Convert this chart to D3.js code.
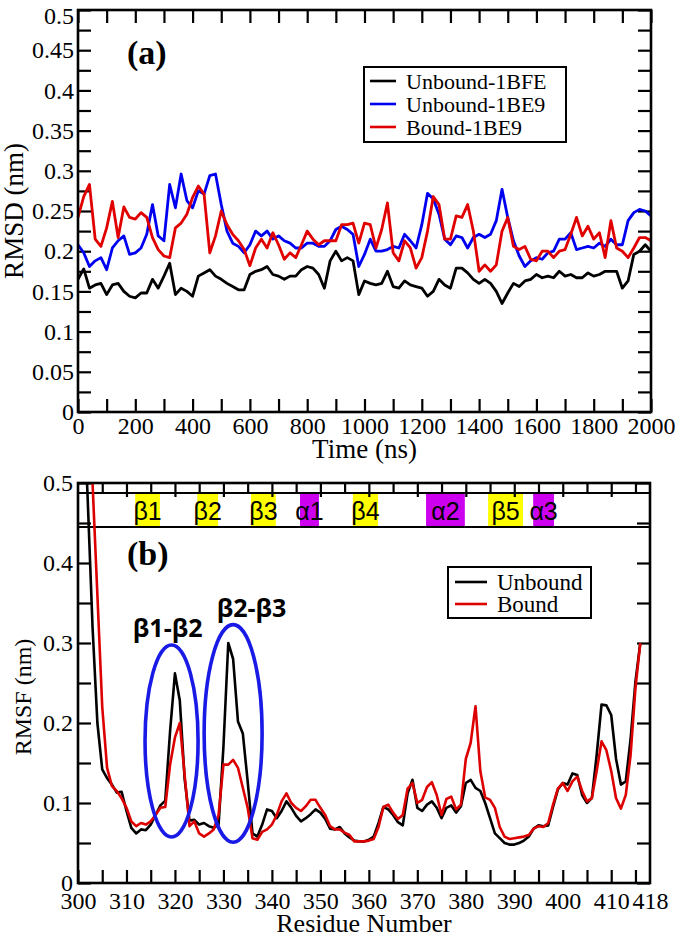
<!DOCTYPE html>
<html>
<head>
<meta charset="UTF-8" />
<title>RMSD / RMSF</title>
<script src="https://cdnjs.cloudflare.com/ajax/libs/d3/7.8.5/d3.min.js"></script>
<style>
  body { margin: 0; background: #fff; }
  svg { display: block; }
</style>
</head>
<body>
<svg id="chart" width="677" height="939"></svg>
<script>
// ---- panel (a): RMSD vs time ----
const rmsdTime = [0,20,40,60,80,100,120,140,160,180,200,220,240,260,280,300,320,340,360,380,
  400,420,440,460,480,500,520,540,560,580,600,620,640,660,680,700,720,740,760,780,
  800,820,840,860,880,900,920,940,960,980,1000,1020,1040,1060,1080,1100,1120,1140,1160,1180,
  1200,1220,1240,1260,1280,1300,1320,1340,1360,1380,1400,1420,1440,1460,1480,1500,1520,1540,1560,1580,
  1600,1620,1640,1660,1680,1700,1720,1740,1760,1780,1800,1820,1840,1860,1880,1900,1920,1940,1960,1980,2000];

const unbound1BFE = [0.165,0.178,0.154,0.158,0.160,0.146,0.158,0.160,0.150,0.144,0.142,0.148,0.148,0.165,0.154,0.169,0.185,0.146,0.154,0.150,
  0.144,0.169,0.173,0.177,0.169,0.165,0.160,0.156,0.152,0.152,0.171,0.175,0.177,0.181,0.171,0.169,0.165,0.169,0.169,0.177,
  0.181,0.179,0.171,0.154,0.188,0.200,0.188,0.192,0.188,0.146,0.163,0.160,0.158,0.160,0.175,0.156,0.154,0.163,0.158,0.156,
  0.154,0.144,0.150,0.165,0.158,0.154,0.179,0.179,0.173,0.165,0.160,0.165,0.160,0.150,0.135,0.148,0.160,0.156,0.163,0.165,
  0.171,0.167,0.169,0.167,0.175,0.169,0.171,0.167,0.167,0.173,0.169,0.171,0.175,0.175,0.175,0.154,0.163,0.196,0.200,0.208,0.200];

const unbound1BE9 = [0.208,0.198,0.181,0.188,0.192,0.177,0.204,0.213,0.219,0.196,0.198,0.204,0.221,0.258,0.219,0.213,0.283,0.254,0.296,0.263,
  0.254,0.275,0.271,0.294,0.296,0.258,0.225,0.210,0.206,0.198,0.208,0.225,0.219,0.225,0.215,0.219,0.213,0.210,0.204,0.204,
  0.210,0.210,0.206,0.206,0.213,0.227,0.231,0.227,0.221,0.181,0.196,0.215,0.200,0.200,0.202,0.206,0.204,0.221,0.213,0.204,
  0.233,0.272,0.265,0.246,0.215,0.208,0.219,0.217,0.204,0.217,0.221,0.217,0.221,0.238,0.277,0.242,0.213,0.194,0.181,0.188,
  0.192,0.190,0.198,0.200,0.215,0.215,0.223,0.202,0.204,0.206,0.204,0.210,0.206,0.215,0.208,0.208,0.238,0.248,0.252,0.250,0.244];

const bound1BE9 = [0.242,0.268,0.283,0.215,0.206,0.229,0.262,0.217,0.255,0.242,0.240,0.248,0.242,0.217,0.202,0.194,0.192,0.229,0.235,0.246,
  0.267,0.281,0.271,0.198,0.219,0.250,0.233,0.221,0.213,0.202,0.182,0.204,0.215,0.204,0.223,0.208,0.190,0.198,0.192,0.208,
  0.225,0.215,0.208,0.213,0.213,0.213,0.233,0.233,0.235,0.210,0.235,0.233,0.204,0.227,0.260,0.198,0.188,0.213,0.204,0.179,
  0.192,0.225,0.268,0.258,0.215,0.215,0.244,0.242,0.258,0.225,0.175,0.183,0.175,0.183,0.225,0.242,0.206,0.202,0.206,0.190,
  0.188,0.200,0.200,0.192,0.200,0.202,0.221,0.242,0.219,0.231,0.215,0.223,0.192,0.238,0.204,0.200,0.192,0.204,0.217,0.217,0.213];

const rmsdNames = ["Unbound-1BFE", "Unbound-1BE9", "Bound-1BE9"];
const rmsdColors = ["#000000", "#0000f0", "#e00000"];
const timeTicks = [0,200,400,600,800,1000,1200,1400,1600,1800,2000];
const timeMinor = [100,300,500,700,900,1100,1300,1500,1700,1900];
const rmsdTicks = [0,0.05,0.1,0.15,0.2,0.25,0.3,0.35,0.4,0.45,0.5];
const rmsdMinor = [0.025,0.075,0.125,0.175,0.225,0.275,0.325,0.375,0.425,0.475];

// ---- panel (b): RMSF per residue ----
const residues = [300,301,302,303,304,305,306,307,308,309,310,311,312,313,314,315,316,317,318,319,
  320,321,322,323,324,325,326,327,328,329,330,331,332,333,334,335,336,337,338,339,
  340,341,342,343,344,345,346,347,348,349,350,351,352,353,354,355,356,357,358,359,
  360,361,362,363,364,365,366,367,368,369,370,371,372,373,374,375,376,377,378,379,
  380,381,382,383,384,385,386,387,388,389,390,391,392,393,394,395,396,397,398,399,
  400,401,402,403,404,405,406,407,408,409,410,411,412,413,414,415,416];

const rmsfUnbound = [0.78,0.63,0.48,0.32,0.20,0.142,0.131,0.123,0.113,0.114,0.090,0.069,0.062,0.067,0.066,0.073,0.085,0.097,0.103,0.190,
  0.262,0.228,0.130,0.078,0.079,0.073,0.075,0.071,0.069,0.073,0.170,0.300,0.280,0.202,0.187,0.127,0.062,0.058,0.073,0.092,
  0.090,0.081,0.090,0.102,0.094,0.084,0.077,0.081,0.086,0.092,0.088,0.080,0.068,0.067,0.070,0.062,0.057,0.053,0.052,0.052,
  0.054,0.058,0.075,0.095,0.092,0.085,0.076,0.072,0.112,0.129,0.094,0.090,0.098,0.102,0.094,0.081,0.094,0.097,0.088,0.096,
  0.125,0.129,0.119,0.115,0.100,0.081,0.062,0.056,0.050,0.048,0.048,0.050,0.053,0.058,0.068,0.072,0.071,0.072,0.095,0.117,
  0.125,0.123,0.137,0.135,0.110,0.100,0.106,0.160,0.223,0.222,0.210,0.155,0.123,0.127,0.180,0.252,0.300];

const rmsfBound = [0.95,0.80,0.65,0.50,0.36,0.22,0.144,0.121,0.115,0.106,0.094,0.077,0.071,0.075,0.073,0.077,0.085,0.094,0.095,0.148,
  0.182,0.200,0.135,0.071,0.077,0.062,0.058,0.062,0.067,0.085,0.148,0.148,0.154,0.144,0.119,0.094,0.056,0.054,0.064,0.067,
  0.073,0.085,0.102,0.112,0.100,0.094,0.090,0.096,0.104,0.104,0.094,0.085,0.071,0.067,0.067,0.063,0.060,0.052,0.052,0.052,
  0.053,0.055,0.070,0.095,0.098,0.088,0.080,0.085,0.118,0.125,0.100,0.104,0.120,0.126,0.110,0.085,0.105,0.108,0.092,0.098,
  0.155,0.175,0.221,0.140,0.107,0.104,0.094,0.070,0.058,0.055,0.056,0.057,0.058,0.060,0.068,0.071,0.070,0.075,0.098,0.118,
  0.125,0.115,0.127,0.133,0.115,0.102,0.106,0.140,0.177,0.166,0.140,0.106,0.093,0.110,0.160,0.244,0.300];

const rmsfNames = ["Unbound", "Bound"];
const rmsfColors = ["#000000", "#dd0000"];
const residueTicks = [300,310,320,330,340,350,360,370,380,390,400,410,418];
const residueMinor = [305,315,325,335,345,355,365,375,385,395,405,415];
const rmsfTicks = [0,0.1,0.2,0.3,0.4,0.5];
const rmsfMinor = [0.05,0.15,0.25,0.35,0.45];

// secondary structure band
const ssLabels = ["β1","β2","β3","α1","β4","α2","β5","α3"];
const ssStart  = [311.8,324.6,335.7,345.8,356.7,371.8,384.6,393.9];
const ssEnd    = [316.9,328.9,340.8,349.7,361.9,379.8,391.8,398.2];
const ssType   = ["strand","strand","strand","helix","strand","helix","strand","helix"];

// loop annotations (data units)
const loopLabels = ["β1-β2","β2-β3"];
const loopCx = [319.3, 332.0];
const loopCy = [0.1775, 0.187];
const loopRx = [5.47, 5.98];
const loopRy = [0.12, 0.136];
const loopLabelX = [318.5, 335.8];
const loopLabelY = [0.3075, 0.3325];

const SERIF = "Liberation Serif, Times New Roman, serif";
const SANS = "Liberation Sans, Arial, sans-serif";
const svg = d3.select("#chart");

// tick marks + labels, no domain line (the frame is drawn separately)
function axisOnly(g, axis) {
  g.call(axis);
  g.select(".domain").remove();
  g.attr("font-size", 24).attr("font-family", SERIF);
  g.selectAll("text")
    .attr("font-size", 24)
    .attr("font-family", SERIF)
    .attr("fill", "#000");
  g.selectAll("line").attr("stroke", "#000").attr("stroke-width", 2.2);
}

function title(txt, size) {
  return svg.append("text")
    .attr("font-family", SERIF).attr("font-size", size).attr("fill", "#000")
    .text(txt);
}

// ================= panel (a) =================
const xA = d3.scaleLinear().domain([0, 2000]).range([78, 651]);
const yA = d3.scaleLinear().domain([0, 0.5]).range([412, 10]);

svg.append("g").attr("transform", "translate(0,412)")
  .call(g => axisOnly(g, d3.axisBottom(xA).tickValues(timeTicks).tickSize(-13).tickPadding(5).tickFormat(d3.format("d"))));
svg.append("g").attr("transform", "translate(0,412)")
  .call(g => axisOnly(g, d3.axisBottom(xA).tickValues(timeMinor).tickSize(-13).tickFormat("")));
svg.append("g").attr("transform", "translate(0,10)")
  .call(g => axisOnly(g, d3.axisTop(xA).tickValues(timeTicks.concat(timeMinor)).tickSize(-13).tickFormat("")));
svg.append("g").attr("transform", "translate(78,0)")
  .call(g => axisOnly(g, d3.axisLeft(yA).tickValues(rmsdTicks).tickSize(-13).tickPadding(4).tickFormat(d3.format("~g"))))
  .call(g => g.selectAll(".tick text").filter(d => d === 0.5).attr("dy", "0.55em"));
svg.append("g").attr("transform", "translate(78,0)")
  .call(g => axisOnly(g, d3.axisLeft(yA).tickValues(rmsdMinor).tickSize(-13).tickFormat("")));
svg.append("g").attr("transform", "translate(651,0)")
  .call(g => axisOnly(g, d3.axisRight(yA).tickValues(rmsdTicks.concat(rmsdMinor)).tickSize(-13).tickFormat("")));

const lineA = d3.line().x((d, i) => xA(rmsdTime[i])).y(d => yA(d));
[unbound1BFE, unbound1BE9, bound1BE9].forEach((s, k) => {
  svg.append("path").datum(s)
    .attr("d", lineA)
    .attr("fill", "none")
    .attr("stroke", rmsdColors[k])
    .attr("stroke-width", 2.8)
    .attr("stroke-linejoin", "round");
});

svg.append("rect")
  .attr("x", xA(0)).attr("y", yA(0.5))
  .attr("width", xA(2000) - xA(0)).attr("height", yA(0) - yA(0.5))
  .attr("fill", "none").attr("stroke", "#000").attr("stroke-width", 2.6);

title("(a)", 34).attr("x", 127).attr("y", 64).attr("font-weight", "bold");
title("Time (ns)", 27).attr("x", (xA(0) + xA(2000)) / 2).attr("y", 458).attr("text-anchor", "middle");
title("RMSD (nm)", 27).attr("text-anchor", "middle")
  .attr("transform", "translate(23," + yA(0.25) + ") rotate(-90)");

// legend (a)
const legA = svg.append("g").attr("font-family", SERIF).attr("font-size", 22);
legA.append("rect").attr("x", 364).attr("y", 67).attr("width", 202).attr("height", 75)
  .attr("fill", "#fff").attr("stroke", "#000").attr("stroke-width", 2);
rmsdNames.forEach((n, i) => {
  const yy = 81 + i * 23;
  legA.append("line").attr("x1", 370).attr("x2", 396).attr("y1", yy).attr("y2", yy)
    .attr("stroke", rmsdColors[i]).attr("stroke-width", 2.6);
  legA.append("text").attr("x", 406).attr("y", yy + 8).attr("fill", "#000").text(n);
});

// ================= panel (b) =================
const xB = d3.scaleLinear().domain([300, 418]).range([78, 650]);
const yB = d3.scaleLinear().domain([0, 0.5]).range([883, 483]);
const bandTop = 493, bandBottom = 527;

// secondary-structure boxes
ssLabels.forEach((lab, i) => {
  svg.append("rect")
    .attr("x", xB(ssStart[i])).attr("y", bandTop)
    .attr("width", xB(ssEnd[i]) - xB(ssStart[i])).attr("height", bandBottom - bandTop)
    .attr("fill", ssType[i] === "strand" ? "#ffff00" : "#cc00ee");
  svg.append("text")
    .attr("x", (xB(ssStart[i]) + xB(ssEnd[i])) / 2).attr("y", 520)
    .attr("text-anchor", "middle")
    .attr("font-family", SANS)
    .attr("font-size", 25)
    .text(lab);
});

svg.append("g").attr("transform", "translate(0,883)")
  .call(g => axisOnly(g, d3.axisBottom(xB).tickValues(residueTicks.slice(0, -1)).tickSize(-13).tickPadding(9).tickFormat(d3.format("d"))));
svg.append("g").attr("transform", "translate(0,883)")
  .call(g => axisOnly(g, d3.axisBottom(xB).tickValues(residueMinor).tickSize(-13).tickFormat("")));
// label for the last residue sits on the frame edge
svg.append("g").attr("transform", "translate(0,883)")
  .call(g => axisOnly(g, d3.axisBottom(xB).tickValues(residueTicks.slice(-1)).tickSize(0).tickPadding(9).tickFormat(d3.format("d"))));
svg.append("g").attr("transform", "translate(0,483)")
  .call(g => axisOnly(g, d3.axisTop(xB).tickValues(residueTicks.slice(1, -1)).tickSize(-14).tickFormat("")));
svg.append("g").attr("transform", "translate(0,483)")
  .call(g => axisOnly(g, d3.axisTop(xB).tickValues(residueMinor).tickSize(-10).tickFormat("")));
svg.append("g").attr("transform", "translate(78,0)")
  .call(g => axisOnly(g, d3.axisLeft(yB).tickValues(rmsfTicks).tickSize(-13).tickPadding(5).tickFormat(d3.format("~g"))));
svg.append("g").attr("transform", "translate(78,0)")
  .call(g => axisOnly(g, d3.axisLeft(yB).tickValues(rmsfMinor).tickSize(-13).tickFormat("")));
svg.append("g").attr("transform", "translate(650,0)")
  .call(g => axisOnly(g, d3.axisRight(yB).tickValues(rmsfTicks.concat(rmsfMinor)).tickSize(-13).tickFormat("")));

[bandTop, bandBottom].forEach(yy => {
  svg.append("line").attr("x1", xB(300)).attr("x2", xB(418)).attr("y1", yy).attr("y2", yy)
    .attr("stroke", "#000").attr("stroke-width", 2);
});

svg.append("clipPath").attr("id", "clipB").append("rect")
  .attr("x", xB(300)).attr("y", yB(0.5))
  .attr("width", xB(418) - xB(300)).attr("height", yB(0) - yB(0.5));

const lineB = d3.line().x((d, i) => xB(residues[i])).y(d => yB(d));
[rmsfUnbound, rmsfBound].forEach((s, k) => {
  svg.append("path").datum(s)
    .attr("d", lineB)
    .attr("clip-path", "url(#clipB)")
    .attr("fill", "none")
    .attr("stroke", rmsfColors[k])
    .attr("stroke-width", 2.6)
    .attr("stroke-linejoin", "round");
});

svg.append("rect")
  .attr("x", xB(300)).attr("y", yB(0.5))
  .attr("width", xB(418) - xB(300)).attr("height", yB(0) - yB(0.5))
  .attr("fill", "none").attr("stroke", "#000").attr("stroke-width", 2.6);

// loop ellipses and labels
loopLabels.forEach((lab, i) => {
  svg.append("ellipse")
    .attr("cx", xB(loopCx[i])).attr("cy", yB(loopCy[i]))
    .attr("rx", xB(300 + loopRx[i]) - xB(300)).attr("ry", yB(0) - yB(loopRy[i]))
    .attr("fill", "none").attr("stroke", "#1a1ae6").attr("stroke-width", 3.6);
  svg.append("text")
    .attr("x", xB(loopLabelX[i])).attr("y", yB(loopLabelY[i]))
    .attr("text-anchor", "middle")
    .attr("font-family", "Open Sans, Liberation Sans, sans-serif")
    .attr("font-weight", "bold").attr("font-size", 25)
    .text(lab);
});

title("(b)", 34).attr("x", 127).attr("y", 565).attr("font-weight", "bold");
title("Residue Number", 26).attr("x", (xB(300) + xB(418)) / 2).attr("y", 932).attr("text-anchor", "middle");
title("RMSF (nm)", 24).attr("text-anchor", "middle")
  .attr("transform", "translate(31,697) rotate(-90)");

// legend (b)
const legB = svg.append("g").attr("font-family", SERIF).attr("font-size", 23);
legB.append("rect").attr("x", 448).attr("y", 567).attr("width", 143).attr("height", 51)
  .attr("fill", "#fff").attr("stroke", "#000").attr("stroke-width", 2);
rmsfNames.forEach((n, i) => {
  const yy = 582 + i * 22;
  legB.append("line").attr("x1", 455).attr("x2", 487).attr("y1", yy).attr("y2", yy)
    .attr("stroke", rmsfColors[i]).attr("stroke-width", 2.6);
  legB.append("text").attr("x", 497).attr("y", yy + 8).attr("fill", "#000").text(n);
});
</script>
</body>
</html>
